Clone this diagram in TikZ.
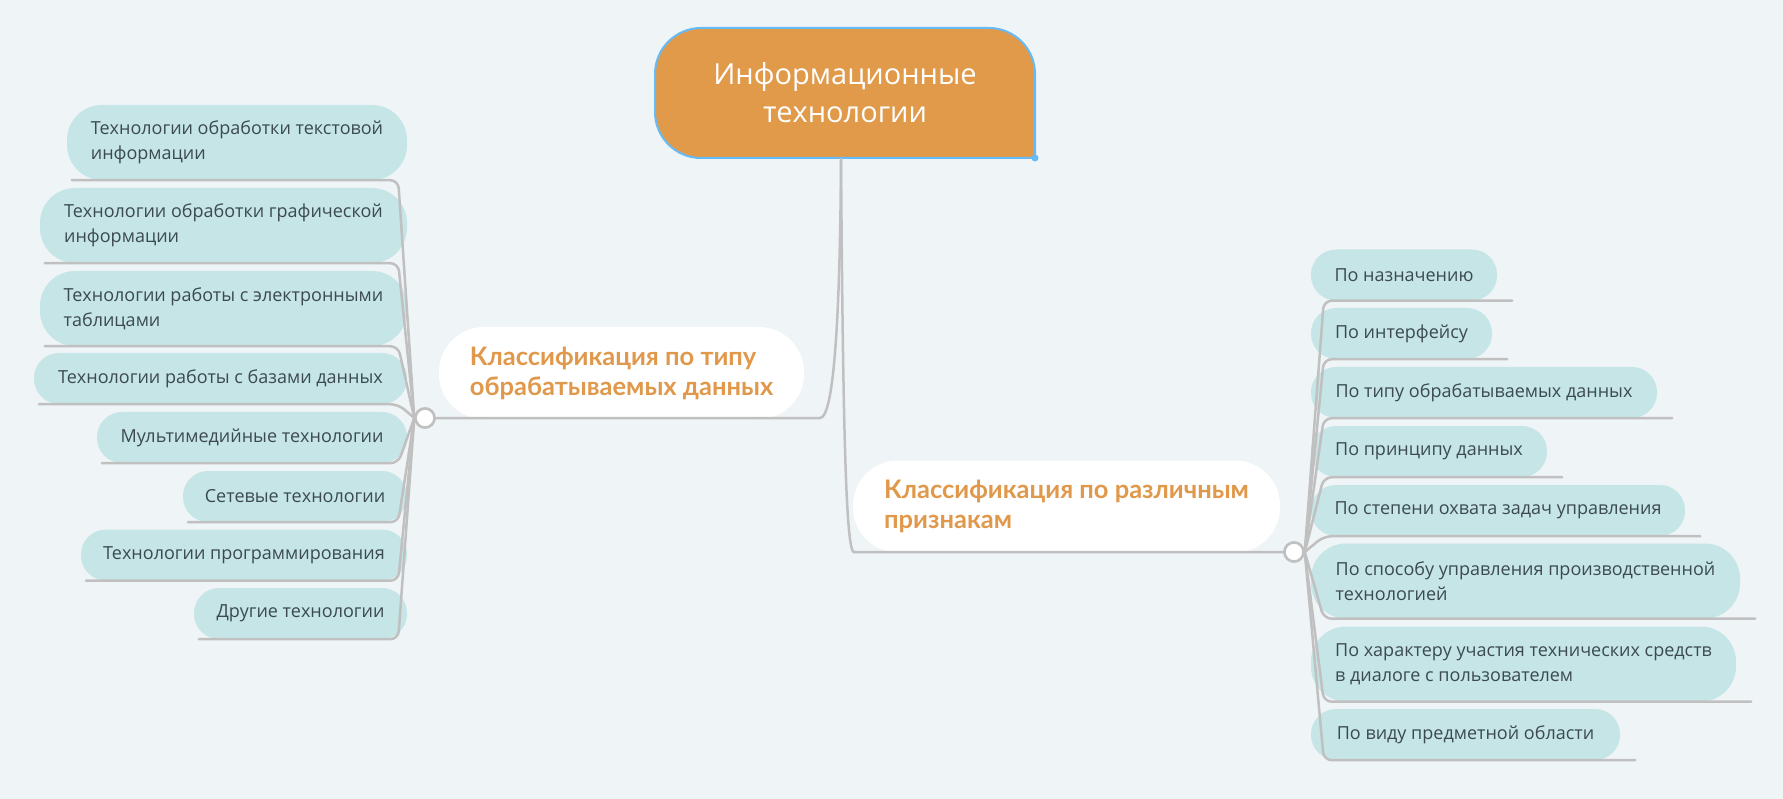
\documentclass[tikz,border=0pt]{standalone}
\usepackage{fontspec}
\setmainfont{Open Sans}
\newfontfamily\headfont{Lato}
\usetikzlibrary{calc}
\definecolor{bg}{HTML}{EFF4F7}
\definecolor{leaffill}{HTML}{C5E5E7}
\definecolor{leaftext}{HTML}{3C4A4F}
\definecolor{linegray}{HTML}{C0C0C0}
\definecolor{orangetext}{HTML}{E0984A}
\definecolor{rootfill}{HTML}{E09A4A}
\definecolor{rootborder}{HTML}{66BBF7}
\newcommand{\leaffont}{\fontsize{18}{25}\selectfont}
\newcommand{\headfnt}{\headfont\bfseries\fontsize{25.5}{30}\selectfont}
\newcommand{\rootfnt}{\fontsize{29}{38}\selectfont}
\begin{document}
\begin{tikzpicture}[x=1pt,y=-1pt,
  leaf/.style={fill=leaffill, text=leaftext, inner sep=0pt, align=left, font=\leaffont},
  one/.style={minimum height=51pt, rounded corners=25pt},
  two/.style={minimum height=75pt, rounded corners=35pt},
  head/.style={fill=white, text=orangetext, inner sep=0pt, align=left, font=\headfnt, minimum height=92pt, rounded corners=45pt},
  conn/.style={draw=linegray, line width=2.5pt, line cap=round, rounded corners=8pt},
  hub/.style={circle, fill=white, draw=linegray, line width=2.5pt, minimum size=19pt, inner sep=0pt}]
\useasboundingbox (0,0) rectangle (1783,799);
\fill[bg] (0,0) rectangle (1783,799);

% root
\filldraw[fill=rootfill, draw=rootborder, line width=2pt]
  (701,28) -- (989,28) .. controls (1014.4,28) and (1035,48.6) .. (1035,74)
  -- (1035,158) -- (701,158) .. controls (675.6,158) and (655,137.4) .. (655,112)
  -- (655,74) .. controls (655,48.6) and (675.6,28) .. (701,28) -- cycle;
\fill[rootborder] (1035,158) circle (3.5pt);
\node[font=\rootfnt, text=white, align=center, inner sep=0pt] (root) at (845,93) {Информационные\\технологии};
\coordinate (rootout) at (841,159);

% headings
\node[head, minimum width=365pt] (HL) at (621.5,373) {Классификация по типу\\обрабатываемых данных};
\node[head, minimum width=427pt] (HR) at (1066.5,506.5) {Классификация по различным\\признакам};

% left leaves
\node[leaf, two, minimum width=340pt] (L1) at (237,142.5) {Технологии обработки текстовой\\информации};
\node[leaf, two, minimum width=367pt] (L2) at (223.5,225.5) {Технологии обработки графической\\информации};
\node[leaf, two, minimum width=367pt] (L3) at (223.5,308.5) {Технологии работы с электронными\\таблицами};
\node[leaf, one, minimum width=373pt] (L4) at (220.5,378.5) {Технологии работы с базами данных};
\node[leaf, one, minimum width=310pt] (L5) at (252,437.5) {Мультимедийные технологии};
\node[leaf, one, minimum width=224pt] (L6) at (295,496.5) {Сетевые технологии};
\node[leaf, one, minimum width=326pt] (L7) at (244,555) {Технологии программирования};
\node[leaf, one, minimum width=213pt] (L8) at (300.5,613.5) {Другие технологии};

% right leaves
\node[leaf, one, minimum width=186pt] (R1) at (1404,275) {По назначению};
\node[leaf, one, minimum width=181pt] (R2) at (1401.5,333.5) {По интерфейсу};
\node[leaf, one, minimum width=346pt] (R3) at (1484,392.5) {По типу обрабатываемых данных};
\node[leaf, one, minimum width=236pt] (R4) at (1429,451.5) {По принципу данных};
\node[leaf, one, minimum width=374pt] (R5) at (1498,510.5) {По степени охвата задач управления};
\node[leaf, two, minimum width=429pt] (R6) at (1525.5,581) {По способу управления производственной\\технологией};
\node[leaf, two, minimum width=425pt] (R7) at (1523.5,664) {По характеру участия технических средств\\в диалоге с пользователем};
\node[leaf, one, minimum width=309pt] (R8) at (1465.5,734.5) {По виду предметной области};

% hubs
\node[hub] (hubL) at (425,418) {};
\node[hub] (hubR) at (1294,552) {};

% main connectors
\draw[conn] (rootout) .. controls (840,330) and (833,418) .. (812,418) -- (hubL.east);
\draw[conn] (rootout) .. controls (843,430) and (846,552) .. (862,552) -- (hubR.west);

% left connectors
\foreach \n in {L1,L2,L3,L4,L5,L6,L7,L8}{
  \draw[conn] (hubL.west) -- ($(\n.south east)+(-9,0)$) -- ($(\n.south west)+(5,0)$);
}
% right connectors
\foreach \n in {R1,R2,R3,R4,R5,R6,R7,R8}{
  \draw[conn] (hubR.east) -- ($(\n.south west)+(13,0)$) -- ($(\n.south east)+(15,0)$);
}
\node[hub] at (hubL) {};
\node[hub] at (hubR) {};
\end{tikzpicture}
\end{document}
